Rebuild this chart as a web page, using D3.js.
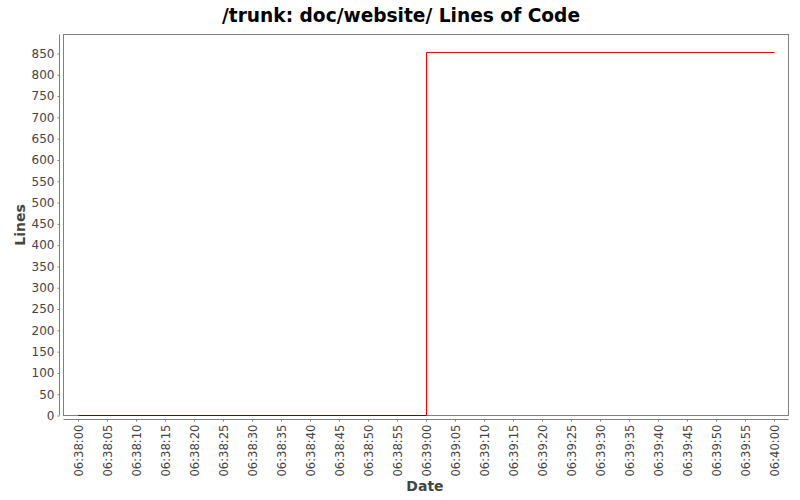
<!DOCTYPE html>
<html><head><meta charset="utf-8">
<script src="https://cdn.jsdelivr.net/npm/d3@7"></script>
<style>body{margin:0;background:#fff}text{font-family:"DejaVu Sans",sans-serif}</style>
</head><body><svg id="c" width="800" height="500"></svg>
<script>
const times = ["06:38:00","06:39:00","06:40:00"];
const values = [0, 852, 852];
const yTicks = [0,50,100,150,200,250,300,350,400,450,500,550,600,650,700,750,800,850];
const xTickLabels = ["06:38:00","06:38:05","06:38:10","06:38:15","06:38:20","06:38:25","06:38:30","06:38:35","06:38:40","06:38:45","06:38:50","06:38:55","06:39:00","06:39:05","06:39:10","06:39:15","06:39:20","06:39:25","06:39:30","06:39:35","06:39:40","06:39:45","06:39:50","06:39:55","06:40:00"];
const title = "/trunk: doc/website/ Lines of Code";

const parse = d3.timeParse("%H:%M:%S");
const svg = d3.select("#c");
const L=63.5,R=788.5,T=34.5,B=415.5;
const x = d3.scaleTime()
  .domain([new Date(parse("06:38:00").getTime()-2500), new Date(parse("06:40:00").getTime()+2500)])
  .range([L,R]);
const y = d3.scaleLinear().domain([0, 894.6]).range([B,T]);

svg.append("rect").attr("x",L).attr("y",T).attr("width",R-L).attr("height",B-T).attr("fill","#fff").attr("stroke","#808080").attr("stroke-width",1);

const data = times.map((t,i)=>({t:parse(t),v:values[i]}));
const line = d3.line().x(d=>Math.round(x(d.t))+0.5).y(d=>Math.round(y(d.v)-0.5)+0.5).curve(d3.curveStepAfter);
svg.append("path").datum(data).attr("d",line).attr("fill","none").attr("stroke","#ff0000").attr("stroke-width",1);
// zero segment overlapping border appears dark
svg.append("path").datum(data.slice(0,2)).attr("d",d3.line().x(d=>Math.round(x(d.t))+0.5).y(B).curve(d3.curveStepAfter)).attr("fill","none").attr("stroke","#800000").attr("stroke-width",1);

// y axis
const ya = svg.append("g").attr("transform",`translate(${L-4},0)`).call(d3.axisLeft(y).tickValues(yTicks).tickSize(2).tickPadding(3));
ya.selectAll("text").attr("font-size",12).attr("fill","#444");
ya.select(".domain").attr("stroke","#808080").attr("d",`M0,${T}V${B}`);
ya.selectAll(".tick line").attr("stroke","#808080");

// x axis
const xa = svg.append("g").attr("transform",`translate(0,${B+4})`).call(d3.axisBottom(x).tickValues(xTickLabels.map(parse)).tickFormat(d3.timeFormat("%H:%M:%S")).tickSize(2));
xa.select(".domain").attr("stroke","#808080").attr("d",`M${L},0H${R}`);
xa.selectAll(".tick line").attr("stroke","#808080");
xa.selectAll("text").attr("font-size",11.6).attr("fill","#444")
  .attr("transform","rotate(-90)").attr("text-anchor","end").attr("x",-5).attr("y",0).attr("dy","0.35em");

svg.append("text").attr("x",401).attr("y",22).attr("text-anchor","middle").attr("font-size",18.6).attr("font-weight","bold").attr("fill","#000").text(title);
svg.append("text").attr("x",425).attr("y",491).attr("text-anchor","middle").attr("font-size",14).attr("font-weight","bold").attr("fill","#444").text("Date");
svg.append("text").attr("transform",`translate(25,${(T+B)/2}) rotate(-90)`).attr("text-anchor","middle").attr("font-size",14).attr("font-weight","bold").attr("fill","#444").text("Lines");
</script></body></html>
